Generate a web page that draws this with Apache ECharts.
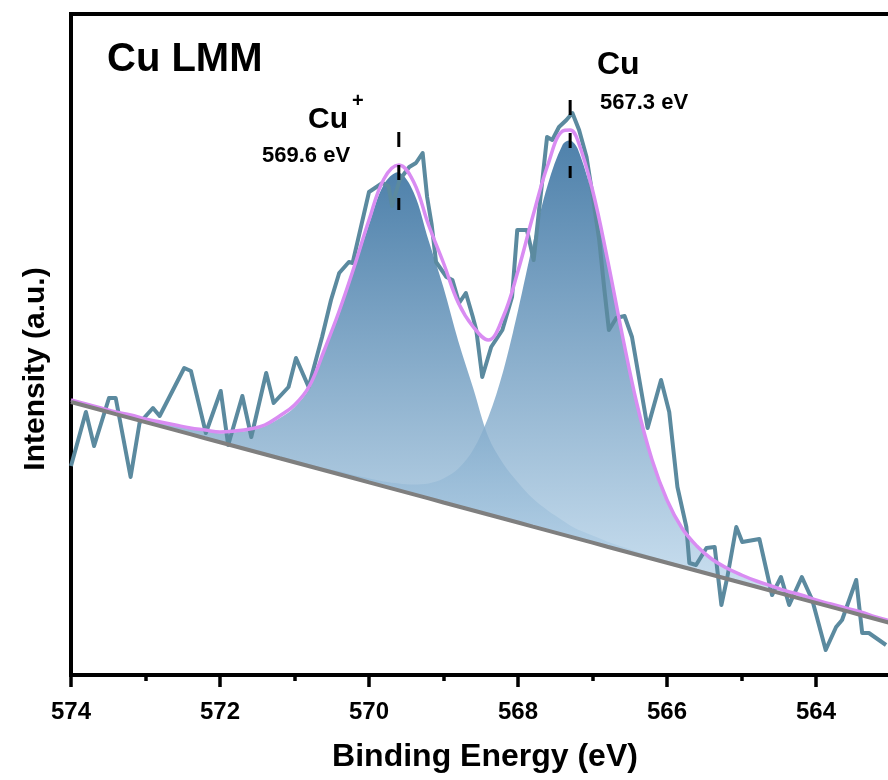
<!DOCTYPE html>
<html><head><meta charset="utf-8">
<script src="https://cdn.jsdelivr.net/npm/echarts@6/dist/echarts.min.js"></script>
<style>html,body{margin:0;padding:0;background:#fff}#chart{width:888px;height:780px}</style>
</head><body><div id="chart"></div>
<script>
// Shared energy grid for the fitted components (eV)
const energy = [574.0,573.8,573.6,573.4,573.2,573.0,572.8,572.6,572.4,572.2,572.0,571.8,571.6,571.4,571.2,571.0,570.8,570.6,570.4,570.2,570.0,569.8,569.6,569.4,569.2,569.0,568.8,568.6,568.4,568.2,568.0,567.8,567.6,567.4,567.3,567.2,567.0,566.8,566.6,566.4,566.2,566.0,565.8,565.6,565.4,565.2,565.0,564.8,564.6,564.4,564.2,564.0,563.8,563.6,563.4,563.2,563.0];
// Background (a.u.)
const background = [273.0,269.0,265.0,260.9,256.9,252.9,248.9,244.9,240.9,236.8,232.8,228.8,224.8,220.8,216.7,212.7,208.7,204.7,200.7,196.7,192.6,188.6,184.6,180.6,176.6,172.5,168.5,164.5,160.5,156.5,152.5,148.4,144.4,140.4,138.4,136.4,132.4,128.3,124.3,120.3,116.3,112.3,108.3,104.2,100.2,96.2,92.2,88.2,84.1,80.1,76.1,72.1,68.1,64.1,60.0,56.0,52.0];
// Cu+ component above background
const peakCuPlus = [1,1,1,1,2,2,3,4,5,7,9,14,20,28,40,55,78,118,160,208,258,302,318,302,258,215,165,122,78,55,40,28,20,14,11,9,7,5,4,3,2,2,1,1,1,1,1,1,1,1,1,1,1,1,1,1,1];
// Cu component above background
const peakCu = [1,1,1,1,1,1,1,1,1,1,1,1,1,1,2,2,2,2,3,3,4,5,7,10,15,24,38,61,97,147,212,283,346,390,396,390,346,283,212,147,97,61,38,24,15,10,7,5,4,3,3,2,2,2,2,1,1];
// Fitted envelope
const envelope = [275,271,267,263,260,256,253,250,247,245,243,244,246,250,259,270,289,325,364,408,455,496,510,493,450,412,372,348,335,358,404,459,510,544,545,535,485,416,340,270,215,175,147,129,116,107,100,94,89,84,80,75,71,67,63,58,54];
// Raw spectrum
const rawEnergy = [574.00,573.80,573.69,573.49,573.40,573.20,573.08,572.90,572.81,572.48,572.39,572.19,571.99,571.89,571.70,571.58,571.38,571.28,571.08,570.98,570.81,570.63,570.51,570.40,570.27,570.22,570.00,569.82,569.74,569.69,569.59,569.46,569.37,569.28,569.22,569.16,569.10,568.96,568.88,568.79,568.70,568.61,568.56,568.48,568.36,568.21,568.08,568.01,567.88,567.79,567.61,567.54,567.45,567.35,567.27,567.18,567.08,567.00,566.91,566.84,566.78,566.68,566.57,566.47,566.26,566.08,565.97,565.86,565.74,565.70,565.61,565.47,565.36,565.27,565.19,565.07,564.99,564.76,564.59,564.47,564.36,564.19,564.05,563.87,563.73,563.65,563.46,563.38,563.29,563.06];
const rawIntensity = [209,263,229,277,277,198,252,267,259,307,304,242,284,230,279,238,302,272,288,317,288,338,375,402,413,412,483,492,489,469,495,508,512,522,478,451,413,398,395,372,382,359,345,298,328,345,378,445,445,415,538,535,548,555,562,545,518,480,435,385,345,357,359,338,247,295,263,188,148,112,110,127,128,70,98,148,133,136,80,98,70,98,75,25,48,55,95,42,42,30];
// Peak position markers
const markerEnergy = [569.6, 567.3];
const markerTop = [543, 575];
const markerBottom = [465, 497];
const markerLabels = ['569.6 eV', '567.3 eV'];

const zip = (a, b) => a.map((v, i) => [v, b[i]]);
const FONT = '"Liberation Sans", Arial, sans-serif';

function grad() {
  return new echarts.graphic.LinearGradient(0, 0, 0, 1, [
    { offset: 0, color: 'rgba(35,98,150,0.8)' }, { offset: 1, color: 'rgba(200,224,242,0.8)' }
  ]);
}

function peakSeries(name, values) {
  return {
    name: name, type: 'custom', coordinateSystem: 'cartesian2d', silent: true, clip: true,
    data: [[energy[0], background[0]]],
    renderItem: function (params, api) {
      const top = energy.map((e, i) => api.coord([e, background[i] + values[i]]));
      const bottom = energy.map((e, i) => api.coord([e, background[i]])).reverse();
      return {
        type: 'polygon',
        shape: { points: top.concat(bottom), smooth: 0.35 },
        style: { fill: grad(), stroke: null }
      };
    }
  };
}

const chart = echarts.init(document.getElementById('chart'), null, { renderer: 'canvas' });

const series = [
  { name: 'raw', type: 'line', data: zip(rawEnergy, rawIntensity), showSymbol: false, symbol: 'none',
    lineStyle: { color: '#5b8a9f', width: 4, join: 'round' }, silent: true },
  peakSeries('Cu+', peakCuPlus),
  peakSeries('Cu', peakCu),
  { name: 'envelope', type: 'line', data: zip(energy, envelope), symbol: 'none', smooth: 0.4,
    lineStyle: { color: '#d98cf2', width: 3.5 }, silent: true },
  { name: 'background', type: 'line', data: zip(energy, background), symbol: 'none',
    lineStyle: { color: '#7f7f7f', width: 4 }, silent: true }
];
markerEnergy.forEach((e, i) => {
  series.push({ name: 'marker' + i, type: 'line', data: [[e, markerTop[i]], [e, markerBottom[i]]],
    symbol: 'none', lineStyle: { color: '#000', width: 3, type: [15, 18] }, silent: true });
});

const txt = (text, x, y, size, extra) => ({
  type: 'text', x: x, y: y, silent: true,
  style: Object.assign({ text: text, font: 'bold ' + size + 'px ' + FONT, fill: '#000',
    verticalAlign: 'middle', textVerticalAlign: 'middle', align: 'left' }, extra || {})
});

const yTitle = txt('Intensity (a.u.)', 0, 0, 30, { align: 'center', textAlign: 'center' });
yTitle.x = 36; yTitle.y = 369; yTitle.rotation = Math.PI / 2;

chart.setOption({
  animation: false,
  backgroundColor: '#fff',
  grid: { left: 71, top: 14, width: 894, height: 661, show: true, borderColor: '#000', borderWidth: 4,
    containLabel: false, outerBoundsMode: 'none' },
  xAxis: {
    type: 'value', min: 562, max: 574, interval: 2, inverse: true,
    axisLine: { show: true, onZero: false, lineStyle: { color: '#000', width: 4 } },
    axisTick: { show: true, length: 12, lineStyle: { color: '#000', width: 3.5 } },
    minorTick: { show: true, splitNumber: 2, length: 6, lineStyle: { color: '#000', width: 3.5 } },
    axisLabel: { fontFamily: FONT, fontWeight: 'bold', fontSize: 24, color: '#000', margin: 25, hideOverlap: false },
    splitLine: { show: false }, minorSplitLine: { show: false }
  },
  yAxis: {
    type: 'value', min: 0, max: 661,
    axisLine: { show: true, lineStyle: { color: '#000', width: 4 } },
    axisTick: { show: false }, axisLabel: { show: false }, splitLine: { show: false }
  },
  graphic: [
    txt('Cu LMM', 107, 60, 40),
    txt('Cu', 308, 120, 30),
    txt('+', 352, 101, 20),
    txt(markerLabels[0], 262, 156, 22),
    txt('Cu', 597, 65, 32),
    txt(markerLabels[1], 600, 103, 22),
    txt('Binding Energy (eV)', 485, 757, 32, { align: 'center', textAlign: 'center' }),
    yTitle
  ],
  series: series
});
</script>
</body></html>
